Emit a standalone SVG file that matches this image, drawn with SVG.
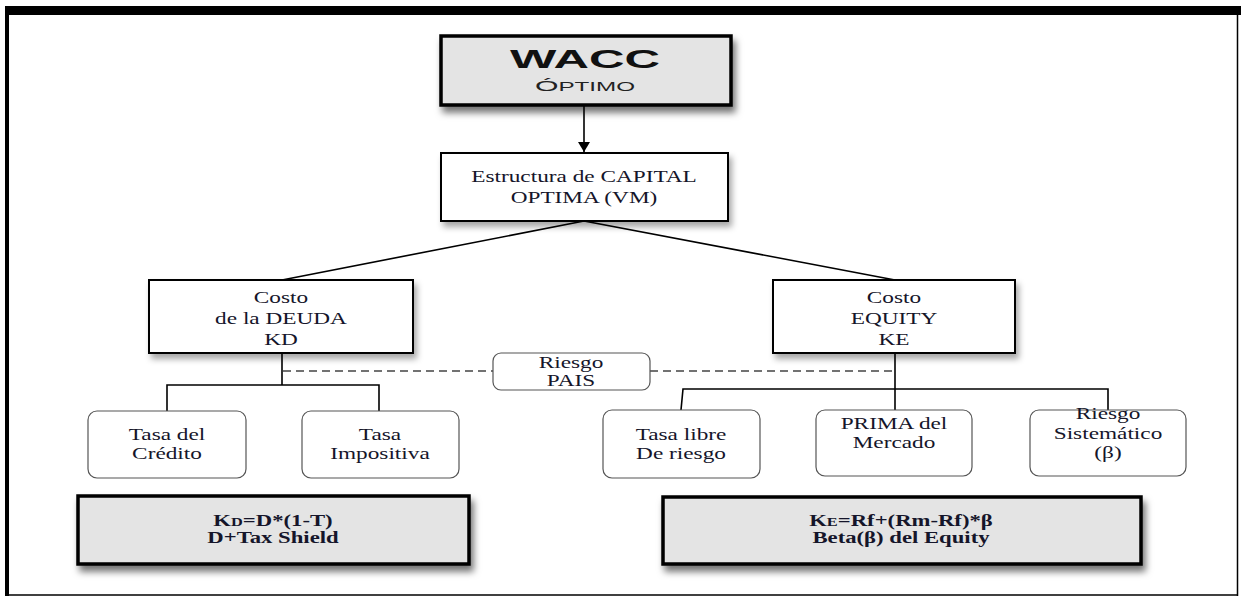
<svg xmlns="http://www.w3.org/2000/svg" width="1241" height="596" viewBox="0 0 1241 596">
<defs>
<style>
.bx{fill:#fff;stroke:#000;stroke-width:2}
.gb{fill:#e4e4e4;stroke:#000;stroke-width:3.5}
.rb{fill:#fff;stroke:#555;stroke-width:1.2}
.ln{fill:none;stroke:#000;stroke-width:1.6}
.ds{fill:none;stroke:#444;stroke-width:1.5;stroke-dasharray:8 5}
.t{font-family:"Liberation Serif","Times New Roman",serif;font-size:17.5px;fill:#15152a;text-anchor:middle}
.b{font-family:"Liberation Serif","Times New Roman",serif;font-size:16px;font-weight:bold;fill:#15152a;text-anchor:middle}
.w{font-family:"Liberation Sans",Arial,sans-serif;font-weight:bold;fill:#111;text-anchor:middle}
.o{font-family:"Liberation Sans",Arial,sans-serif;font-weight:normal;fill:#222;text-anchor:middle}
</style>
<filter id="sh" x="-10%" y="-20%" width="125%" height="150%">
<feDropShadow dx="3" dy="5" stdDeviation="3" flood-color="#000" flood-opacity="0.35"/>
</filter>
<filter id="sh2" x="-10%" y="-25%" width="125%" height="160%">
<feDropShadow dx="3" dy="6" stdDeviation="3.5" flood-color="#000" flood-opacity="0.55"/>
</filter>
<marker id="ah" markerWidth="12" markerHeight="12" refX="10" refY="6" orient="auto" markerUnits="userSpaceOnUse">
<path d="M0,0 L10,6 L0,12 z" fill="#000"/>
</marker>
</defs>
<rect x="0" y="0" width="1241" height="596" fill="#fff"/>
<g id="frame">
<rect x="5" y="6" width="1236" height="9" fill="#000"/>
<rect x="5" y="6" width="4" height="590" fill="#000"/>
<line x1="1237.5" y1="15" x2="1237.5" y2="596" stroke="#000" stroke-width="1.5"/>
<line x1="5" y1="595" x2="1238" y2="595" stroke="#000" stroke-width="1.5"/>
</g>
<g id="connectors">
<line class="ln" x1="584" y1="106" x2="584" y2="152" marker-end="url(#ah)"/>
<line class="ln" x1="584" y1="221" x2="282" y2="280"/>
<line class="ln" x1="584" y1="221" x2="895" y2="280"/>
<path class="ln" d="M282,353 V385 M167,411 V385 H379 V411"/>
<path class="ln" d="M895,353 V411 M681,410 L683,389 H1108 V410"/>
<line class="ds" x1="283" y1="371" x2="493" y2="371"/>
<line class="ds" x1="650" y1="371" x2="894" y2="371"/>
</g>
<g id="wacc">
<rect class="gb" x="441" y="36" width="290" height="69" filter="url(#sh2)"/>
<text class="w" x="585" y="67.5" font-size="25" textLength="150" lengthAdjust="spacingAndGlyphs">WACC</text>
<text class="o" x="585" y="91" textLength="100" lengthAdjust="spacingAndGlyphs"><tspan font-size="15">Ó</tspan><tspan font-size="12">PTIMO</tspan></text>
</g>
<g id="estructura">
<rect class="bx" x="441" y="153" width="287" height="68" filter="url(#sh)"/>
<text class="t" transform="translate(584 182) scale(1.33 1)">Estructura de CAPITAL</text>
<text class="t" transform="translate(584 203) scale(1.33 1)">OPTIMA (VM)</text>
</g>
<g id="deuda">
<rect class="bx" x="149" y="280" width="264" height="73" filter="url(#sh)"/>
<text class="t" transform="translate(281 303) scale(1.33 1)">Costo</text>
<text class="t" transform="translate(281 324) scale(1.33 1)">de la DEUDA</text>
<text class="t" transform="translate(281 345) scale(1.33 1)">KD</text>
</g>
<g id="equity">
<rect class="bx" x="773" y="280" width="242" height="73" filter="url(#sh)"/>
<text class="t" transform="translate(894 303) scale(1.33 1)">Costo</text>
<text class="t" transform="translate(894 324) scale(1.33 1)">EQUITY</text>
<text class="t" transform="translate(894 345) scale(1.33 1)">KE</text>
</g>
<g id="riesgo-pais">
<rect class="rb" x="493" y="353" width="157" height="37" rx="8"/>
<text class="t" transform="translate(571 368) scale(1.33 1)">Riesgo</text>
<text class="t" transform="translate(571 386) scale(1.33 1)">PAIS</text>
</g>
<g id="tasa-credito">
<rect class="rb" x="88" y="411" width="158" height="67" rx="9"/>
<text class="t" transform="translate(167 440) scale(1.33 1)">Tasa del</text>
<text class="t" transform="translate(167 459) scale(1.33 1)">Crédito</text>
</g>
<g id="tasa-impositiva">
<rect class="rb" x="302" y="411" width="157" height="67" rx="9"/>
<text class="t" transform="translate(380 440) scale(1.33 1)">Tasa</text>
<text class="t" transform="translate(380 459) scale(1.33 1)">Impositiva</text>
</g>
<g id="tasa-libre">
<rect class="rb" x="603" y="410" width="157" height="68" rx="9"/>
<text class="t" transform="translate(681 440) scale(1.33 1)">Tasa libre</text>
<text class="t" transform="translate(681 459) scale(1.33 1)">De riesgo</text>
</g>
<g id="prima">
<rect class="rb" x="816" y="410" width="156" height="66" rx="9"/>
<text class="t" transform="translate(894 429) scale(1.33 1)">PRIMA del</text>
<text class="t" transform="translate(894 448) scale(1.33 1)">Mercado</text>
</g>
<g id="riesgo-sistematico">
<rect class="rb" x="1030" y="410" width="156" height="66" rx="9"/>
<text class="t" transform="translate(1108 419) scale(1.33 1)">Riesgo</text>
<text class="t" transform="translate(1108 439) scale(1.33 1)">Sistemático</text>
<text class="t" transform="translate(1108 458) scale(1.33 1)">(β)</text>
</g>
<g id="kd">
<rect class="gb" x="78" y="496" width="391" height="68" filter="url(#sh2)"/>
<text class="b" transform="translate(273 526) scale(1.42 1)">K<tspan font-size="11.5">D</tspan>=D*(1-T)</text>
<text class="b" transform="translate(273 543) scale(1.42 1)">D+Tax Shield</text>
</g>
<g id="ke">
<rect class="gb" x="663" y="497" width="478" height="67" filter="url(#sh2)"/>
<text class="b" transform="translate(901 526) scale(1.42 1)">K<tspan font-size="11.5">E</tspan>=Rf+(Rm-Rf)*β</text>
<text class="b" transform="translate(901 543) scale(1.42 1)">Beta(β) del Equity</text>
</g>
</svg>
